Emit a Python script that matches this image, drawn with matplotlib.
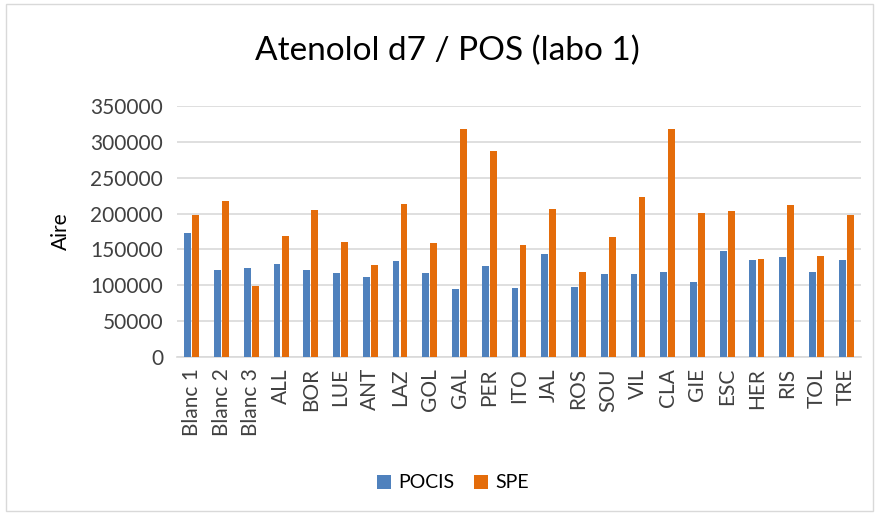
import matplotlib.pyplot as plt
import numpy as np
from matplotlib.patches import Rectangle

# Données
echantillons = ['Blanc 1', 'Blanc 2', 'Blanc 3', 'ALL', 'BOR', 'LUE', 'ANT', 'LAZ',
                'GOL', 'GAL', 'PER', 'ITO', 'JAL', 'ROS', 'SOU', 'VIL', 'CLA',
                'GIE', 'ESC', 'HER', 'RIS', 'TOL', 'TRE']
pocis = [172800, 120800, 124500, 129600, 120800, 117600, 112000, 133400,
         117600, 94300, 126400, 95700, 144100, 97600, 115200, 115200, 119000,
         104600, 147800, 135200, 138900, 119000, 135200]
spe = [198000, 217500, 99400, 169100, 204900, 160300, 127800, 213700,
       158500, 317400, 287200, 156600, 206800, 119000, 167300, 222600, 317400,
       201200, 203100, 137100, 212400, 140300, 198000]

plt.rcParams['font.family'] = ['Lato', 'DejaVu Sans']

W, H = 877, 515
fig = plt.figure(figsize=(W / 100, H / 100), dpi=100)

# Cadre gris autour du graphique
fig.patches.append(Rectangle((6 / W, 4 / H), 867 / W, 507 / H, transform=fig.transFigure,
                             fill=False, edgecolor='#d9d9d9', linewidth=1))

# Zone de tracé (coordonnées en pixels)
ax = fig.add_axes([177 / W, 158 / H, 684 / W, 251 / H])

x = np.arange(len(echantillons))
largeur = 0.23
ax.bar(x - 0.135, pocis, largeur, color='#4f81bd', label='POCIS', zorder=3)
ax.bar(x + 0.135, spe, largeur, color='#e46c0a', label='SPE', zorder=3)

ax.set_xlim(-0.5, len(echantillons) - 0.5)
ax.set_ylim(0, 350000)
ax.set_yticks(np.arange(0, 350001, 50000))
ax.set_yticklabels([str(v) for v in range(0, 350001, 50000)], fontsize=15, color='#404040')
ax.set_xticks(x)
ax.set_xticklabels(echantillons, rotation=90, fontsize=15, color='#404040')
ax.tick_params(axis='both', length=0)
ax.tick_params(axis='y', pad=10)
ax.tick_params(axis='x', pad=8)

ax.grid(axis='y', color='#d9d9d9', linewidth=1.2, zorder=0)
for s in ['top', 'right', 'left']:
    ax.spines[s].set_visible(False)
ax.spines['bottom'].set_color('#d9d9d9')
ax.spines['bottom'].set_linewidth(1.2)

ax.set_ylabel('Aire', fontsize=15, color='#000000', labelpad=14)
fig.text(447 / W, 1 - 51 / H, 'Atenolol d7 / POS (labo 1)', fontsize=24,
         ha='center', va='center', color='#000000')

fig.legend(loc='center', bbox_to_anchor=(453 / W, 1 - 483 / H), ncol=2, frameon=False,
           fontsize=14, handlelength=0.7, handleheight=0.7, columnspacing=1.0,
           handletextpad=0.4)

fig.savefig('out.png', dpi=100)
